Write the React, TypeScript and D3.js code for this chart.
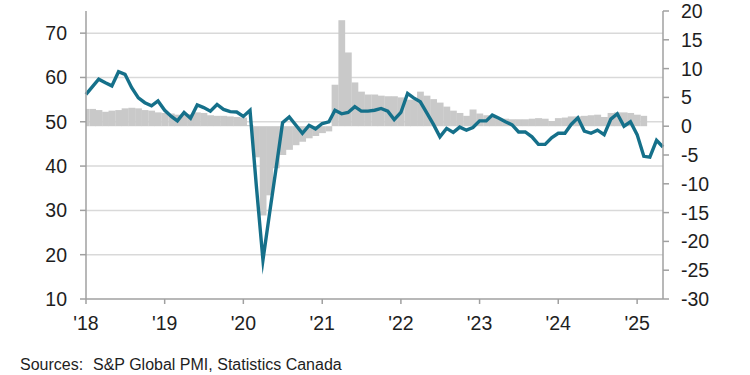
import React from "react";
import * as d3 from "d3";

// PMI (left axis), monthly Jan 2018 – May 2025
const pmi: number[] = [
  56.2, 58.0, 59.6, 58.8, 58.1, 61.3, 60.7, 57.7, 55.4, 54.3, 53.6, 54.7,
  52.6, 51.2, 50.2, 52.1, 50.8, 53.8, 53.2, 52.4, 53.9, 52.8, 52.3, 52.2,
  51.2, 52.6, 35.7, 18.8, 29.1, 39.5, 49.8, 51.1, 49.2, 47.4, 49.2, 48.4,
  49.6, 50.0, 52.6, 51.8, 52.1, 53.4, 52.4, 52.4, 52.6, 53.0, 52.4, 50.5,
  52.1, 56.4, 55.4, 54.5, 52.0, 49.4, 46.6, 48.5, 47.6, 48.8, 48.1, 48.7,
  50.2, 50.2, 51.5, 50.8, 50.0, 49.3, 47.7, 47.7, 46.6, 44.9, 44.9, 46.4,
  47.4, 47.4, 49.4, 50.9, 47.9, 47.4, 48.1, 47.1, 50.6, 51.8, 49.0, 50.0,
  47.1, 42.2, 42.0, 45.8, 44.3,
];

// Statistics Canada series (right axis, grey bars), Jan 2018 – Feb 2025
const change: number[] = [
  3.0, 3.0, 2.8, 2.5, 2.7, 2.8, 3.1, 3.2, 3.1, 2.8, 2.7, 2.4,
  2.3, 2.2, 2.0, 2.0, 2.1, 2.4, 2.3, 1.9, 1.8, 1.8, 1.7, 1.6,
  1.5, 0.2, -5.4, -15.5, -12.0, -7.3, -5.0, -4.1, -3.3, -2.7, -2.1, -1.7,
  -1.2, -0.9, 7.2, 18.4, 12.8, 7.6, 6.0, 5.5, 5.5, 5.3, 5.2, 5.2,
  5.0, 4.6, 4.6, 6.0, 5.3, 4.7, 4.1, 3.4, 2.7, 2.3, 1.8, 2.9,
  2.2, 1.9, 1.7, 1.4, 1.3, 1.2, 1.2, 1.2, 1.3, 1.4, 1.3, 0.9,
  1.4, 1.5, 1.7, 1.7, 1.8, 1.9, 2.0, 1.6, 2.3, 2.4, 2.4, 2.3,
  2.0, 1.8,
];

const leftTicks: number[] = [10, 20, 30, 40, 50, 60, 70];
const rightTicks: number[] = [-30, -25, -20, -15, -10, -5, 0, 5, 10, 15, 20];
const yearLabels: string[] = ["'18", "'19", "'20", "'21", "'22", "'23", "'24", "'25"];
const sourceLabel = "Sources:";
const sourceText = "S&P Global PMI, Statistics Canada";

const W = 750;
const H = 375;
const X0 = 86;
const X1 = 663;
const Y0 = 299;
const YT = 11;

export default function App() {
  const start = new Date(2018, 0, 1);
  const months = d3.timeMonth.range(start, new Date(2025, 5, 1));
  const x = d3.scaleTime().domain([months[0], months[months.length - 1]]).range([X0, X1]);
  const yL = d3.scaleLinear().domain([10, 75]).range([Y0, YT]);
  const yR = d3.scaleLinear().domain([-30, 20]).range([Y0, YT]);

  const line = d3
    .line<number>()
    .x((_, i) => x(months[i]))
    .y((d) => yL(d));

  const font = "'Liberation Sans', Arial, sans-serif";
  const textColor = "#1e1e1e";
  const axisColor = "#a0a0a0";

  return (
    <svg
      width={W}
      height={H}
      style={{ position: "absolute", left: 0, top: 0, background: "#fff" }}
      fontFamily={font}
    >
      <defs>
        <clipPath id="plot">
          <rect x={X0} y={0} width={X1 - X0} height={Y0} />
        </clipPath>
      </defs>
      {leftTicks
        .filter((t) => t > 10)
        .map((t) => (
          <line key={"g" + t} x1={X0} x2={X1} y1={yL(t)} y2={yL(t)} stroke="#d9d9d9" strokeWidth={1.5} />
        ))}
      <g clipPath="url(#plot)">
        {change.map((v, i) => {
          const cx = x(months[i]);
          const w = x(d3.timeMonth.offset(months[i], 1)) - cx;
          const y1 = yR(Math.max(0, v));
          const y2 = yR(Math.min(0, v));
          return (
            <rect key={"b" + i} x={cx - w / 2} y={y1} width={w + 0.3} height={y2 - y1} fill="#c9c9c9" />
          );
        })}
      </g>
      <path
        d={line(pmi) || ""}
        fill="none"
        stroke="#15708a"
        strokeWidth={3.4}
        strokeLinejoin="miter"
        strokeMiterlimit={10}
      />
      <line x1={X0} x2={X0} y1={YT} y2={Y0} stroke={axisColor} strokeWidth={1.5} />
      <line x1={X1} x2={X1} y1={YT} y2={Y0} stroke={axisColor} strokeWidth={1.5} />
      <line x1={X0} x2={X1} y1={Y0} y2={Y0} stroke={axisColor} strokeWidth={1.5} />
      {leftTicks.map((t) => (
        <g key={"l" + t}>
          <line x1={X0 - 6} x2={X0} y1={yL(t)} y2={yL(t)} stroke={axisColor} strokeWidth={1.5} />
          <text x={67} y={yL(t)} dy="0.36em" textAnchor="end" fontSize={19.5} fill={textColor}>
            {t}
          </text>
        </g>
      ))}
      {rightTicks.map((t) => (
        <g key={"r" + t}>
          <line x1={X1} x2={X1 + 6} y1={yR(t)} y2={yR(t)} stroke={axisColor} strokeWidth={1.5} />
          <text x={681} y={yR(t)} dy="0.36em" textAnchor="start" fontSize={19.5} fill={textColor}>
            {t}
          </text>
        </g>
      ))}
      {yearLabels.map((lab, k) => {
        const xx = x(new Date(2018 + k, 0, 1));
        return (
          <g key={"x" + k}>
            <line x1={xx} x2={xx} y1={Y0} y2={Y0 + 5} stroke={axisColor} strokeWidth={1.5} />
            <text x={xx} y={330} textAnchor="middle" fontSize={19.5} fill={textColor}>
              {lab}
            </text>
          </g>
        );
      })}
      <text x={20} y={370} fontSize={16} fill={textColor}>
        {sourceLabel}
      </text>
      <text x={93} y={370} fontSize={16} fill={textColor}>
        {sourceText}
      </text>
    </svg>
  );
}
